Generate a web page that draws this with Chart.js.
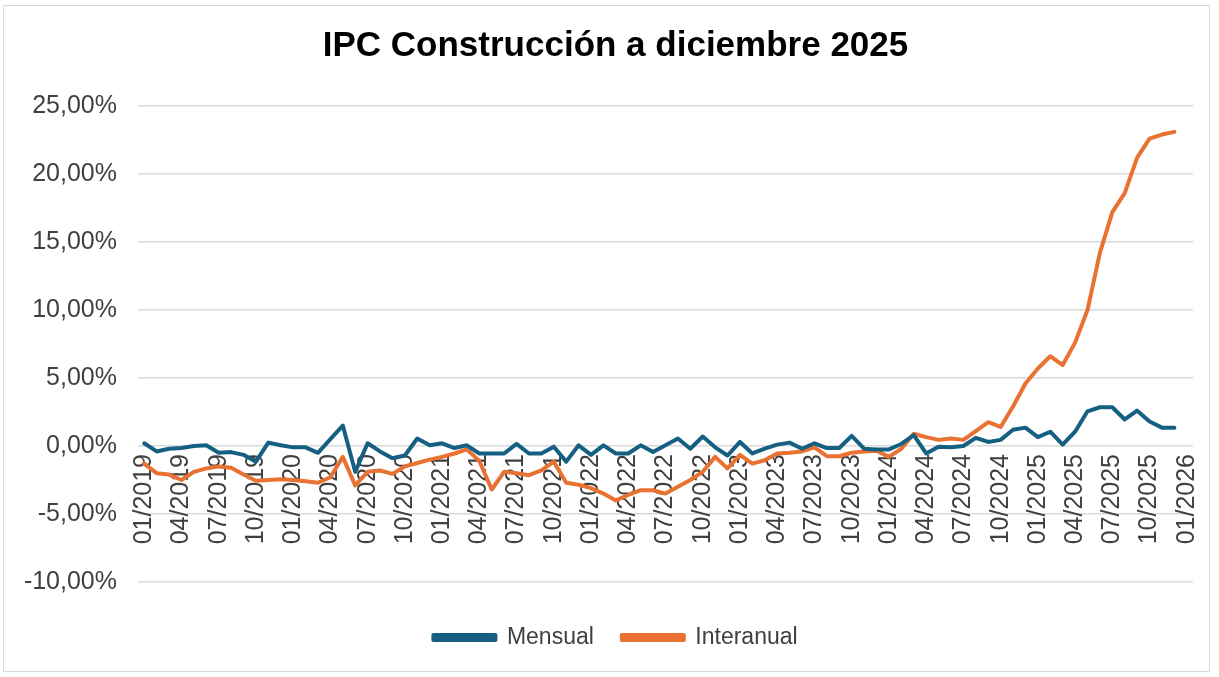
<!DOCTYPE html>
<html>
<head>
<meta charset="utf-8">
<script src="https://cdn.jsdelivr.net/npm/chart.js@4.4.0/dist/chart.umd.min.js"></script>
<style>
  html, body { margin: 0; padding: 0; background: #ffffff; overflow: hidden; }
  #frame { position: absolute; left: 3px; top: 5px; width: 1207px; height: 667px; border: 1px solid #d9d9d9; box-sizing: border-box; background: #fff; overflow: hidden; }
  canvas { display: block; }
</style>
</head>
<body>
<div id="frame"><canvas id="c" width="1223" height="665"></canvas></div>
<script>
// Categories: monthly 01/2019 .. 01/2026
const months = [];
for (let y = 2019; y <= 2026; y++) {
  for (let m = 1; m <= 12; m++) {
    if (y === 2026 && m > 1) break;
    months.push((m < 10 ? '0' + m : '' + m) + '/' + y);
  }
}

// Monthly variation (%) 01/2019 .. 12/2025
const mensual = [
  0.2, -0.4, -0.2, -0.15, 0.0, 0.05, -0.5, -0.45, -0.65, -1.15, 0.25, 0.05,
  -0.1, -0.1, -0.5, 0.5, 1.5, -1.9, 0.2, -0.4, -0.9, -0.7, 0.55, 0.05,
  0.2, -0.15, 0.05, -0.55, -0.55, -0.55, 0.15, -0.55, -0.55, -0.05, -1.15, 0.05,
  -0.65, 0.05, -0.55, -0.55, 0.05, -0.45, 0.05, 0.55, -0.2, 0.7, -0.1, -0.7,
  0.3, -0.55, -0.2, 0.1, 0.25, -0.2, 0.2, -0.15, -0.15, 0.75, -0.2, -0.25,
  -0.25, 0.15, 0.8, -0.55, -0.05, -0.1, 0.0, 0.6, 0.3, 0.45, 1.2, 1.35,
  0.65, 1.05, 0.1, 1.05, 2.55, 2.85, 2.85, 1.95, 2.6, 1.8, 1.35, 1.35,
  null
];

// Year-on-year variation (%) 01/2019 .. 12/2025
const interanual = [
  -1.3, -2.0, -2.1, -2.5, -1.9, -1.65, -1.5, -1.6, -2.1, -2.55, -2.5, -2.45,
  -2.5, -2.6, -2.7, -2.3, -0.8, -2.9, -1.9, -1.8, -2.05, -1.5, -1.25, -1.0,
  -0.8, -0.55, -0.25, -1.1, -3.2, -1.9, -2.0, -2.15, -1.8, -1.15, -2.7, -2.85,
  -3.1, -3.5, -4.0, -3.6, -3.25, -3.25, -3.5, -3.0, -2.5, -1.9, -0.8, -1.65,
  -0.65, -1.3, -1.05, -0.55, -0.5, -0.4, -0.1, -0.75, -0.75, -0.5, -0.4, -0.35,
  -0.8, -0.2, 0.9, 0.65, 0.45, 0.55, 0.45, 1.1, 1.75, 1.4, 2.9, 4.6,
  5.7, 6.6, 5.95, 7.6, 10.0, 14.2, 17.2, 18.6, 21.2, 22.6, 22.9, 23.1,
  null
];

const yTicks = [-10, -5, 0, 5, 10, 15, 20, 25];

const FONT = '"Liberation Sans", Arial, Helvetica, sans-serif';
const BLUE = '#156082';
const ORANGE = '#E97132';
const TEXT = '#404040';

new Chart(document.getElementById('c'), {
  type: 'line',
  data: {
    labels: months,
    datasets: [
      { label: 'Mensual', data: mensual, borderColor: BLUE, backgroundColor: BLUE,
        borderWidth: 4, pointRadius: 0, tension: 0, borderJoinStyle: 'round', borderCapStyle: 'round' },
      { label: 'Interanual', data: interanual, borderColor: ORANGE, backgroundColor: ORANGE,
        borderWidth: 4, pointRadius: 0, tension: 0, borderJoinStyle: 'round', borderCapStyle: 'round' }
    ]
  },
  options: {
    responsive: false,
    animation: false,
    devicePixelRatio: 1,
    layout: { padding: { left: 0, right: 0, top: 0, bottom: 12 } },
    plugins: {
      title: {
        display: true,
        text: 'IPC Construcción a diciembre 2025',
        color: '#000000',
        font: { family: FONT, size: 35, weight: 'bold' },
        padding: { top: 19, bottom: 39 }
      },
      legend: {
        display: true,
        position: 'bottom',
        labels: {
          color: TEXT,
          font: { family: FONT, size: 23 },
          boxWidth: 62,
          boxHeight: 5,
          padding: 28
        }
      },
      tooltip: { enabled: false }
    },
    scales: {
      x: {
        type: 'category',
        position: { y: 0 },
        offset: true,
        grid: { display: false, drawTicks: false },
        border: { display: false },
        ticks: {
          autoSkip: false,
          maxRotation: 90,
          minRotation: 90,
          padding: 8,
          color: TEXT,
          font: { family: FONT, size: 25 },
          callback: function (v, i) { return i % 3 === 0 ? months[i] : ''; }
        }
      },
      xspace: {
        type: 'category',
        position: 'bottom',
        display: true,
        grid: { display: false, drawTicks: false },
        border: { display: false },
        ticks: { display: false },
        afterFit: function (s) { s.height = 16; }
      },
      y: {
        min: -10,
        max: 25,
        position: 'left',
        afterBuildTicks: function (s) { s.ticks = yTicks.map(v => ({ value: v })); },
        grid: { color: '#d9d9d9', lineWidth: 1.5, drawTicks: false },
        border: { display: false },
        ticks: {
          padding: 21,
          color: TEXT,
          font: { family: FONT, size: 25 },
          callback: function (v) { return v.toFixed(2).replace('.', ',') + '%'; }
        },
        afterFit: function (s) { s.width = 134; }
      },
      yspace: {
        type: 'linear',
        position: 'right',
        display: true,
        grid: { display: false, drawTicks: false },
        border: { display: false },
        ticks: { display: false },
        afterFit: function (s) { s.width = 34; }
      }
    }
  }
});
</script>
</body>
</html>
